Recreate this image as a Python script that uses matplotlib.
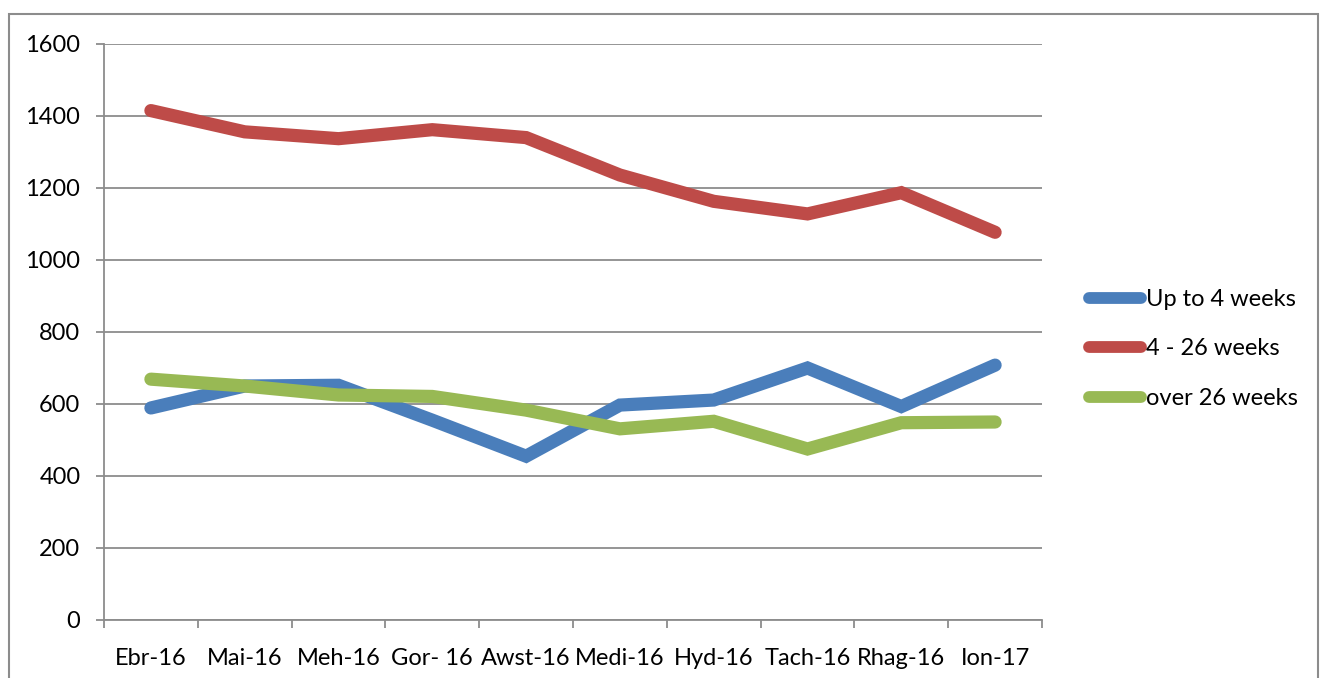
import numpy as np
import matplotlib.pyplot as plt
from matplotlib.patches import Rectangle

plt.rcParams['font.family'] = ['Lato', 'DejaVu Sans']

months = ['Ebr-16', 'Mai-16', 'Meh-16', 'Gor- 16', 'Awst-16', 'Medi-16',
          'Hyd-16', 'Tach-16', 'Rhag-16', 'Ion-17']
up_to_4 = [589, 650, 652, 555, 455, 597, 611, 700, 593, 708]
w4_26 = [1415, 1356, 1337, 1362, 1340, 1236, 1163, 1128, 1187, 1077]
over_26 = [669, 650, 625, 621, 583, 531, 552, 475, 548, 550]

series_names = ['Up to 4 weeks', '4 - 26 weeks', 'over 26 weeks']
colors = ['#4A7EBB', '#BE4B48', '#98B954']

fig = plt.figure(figsize=(13.25, 6.78), dpi=100)
ax = fig.add_axes([104/1325, 1 - 620/678, (1042-104)/1325, (620-44)/678])

# outer chart border
fig.patches.append(Rectangle((9/1325, -0.1), (1318-9)/1325, 1.1 - 14/678,
                             transform=fig.transFigure, fill=False,
                             edgecolor='#8c8c8c', linewidth=1.5))

x = np.arange(len(months))
for vals, name, c in zip([up_to_4, w4_26, over_26], series_names, colors):
    ax.plot(x, vals, color=c, linewidth=9.5, solid_capstyle='round',
            solid_joinstyle='miter', label=name)

ax.set_xlim(-0.5, len(months) - 0.5)
ax.set_ylim(0, 1600)
ax.set_yticks(np.arange(0, 1601, 200))
ax.yaxis.grid(True, color='#8c8c8c', linewidth=1.3)
ax.set_axisbelow(True)

ax.set_xticks(np.arange(-0.5, len(months)), labels=[])
ax.set_xticks(x, labels=months, minor=True)
ax.tick_params(axis='x', which='major', length=6, width=1.3, color='#8c8c8c', direction='out')
ax.tick_params(axis='x', which='minor', length=0, pad=20, labelsize=17)
ax.tick_params(axis='y', length=6, width=1.3, color='#8c8c8c', pad=11, labelsize=17)

for s in ['top', 'right']:
    ax.spines[s].set_visible(False)
for s in ['left', 'bottom']:
    ax.spines[s].set_color('#8c8c8c')
    ax.spines[s].set_linewidth(1.3)

leg = fig.legend(loc='center left', bbox_to_anchor=(1068/1325, 1 - 349/678),
                 frameon=False, fontsize=17, handlelength=2.2, handletextpad=0.2,
                 labelspacing=1.2)
for h in leg.get_lines():
    h.set_linewidth(8.5)

fig.savefig('out.png', dpi=100)
